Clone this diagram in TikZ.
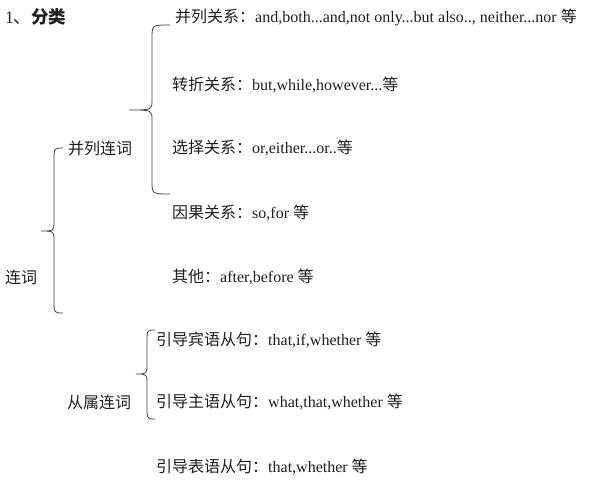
\documentclass[tikz,border=0pt]{standalone}
\usepackage{fontspec}
\setmainfont{Liberation Serif}
\newfontfamily\cjk{Noto Sans CJK SC}
\tikzset{
  lbl/.style={anchor=west,inner sep=0pt,font=\fontsize{16}{18}\selectfont,text=black!88},
  ttl/.style={anchor=west,inner sep=0pt,font=\fontsize{17.5}{20}\selectfont,text=black!88},
  brace/.style={draw=black!75,line width=0.8pt}
}
% args: xend, xbar, xtip, ytop, ymid, ybot
\newcommand\mybrace[6]{%
  \draw[brace] (#1,#4) .. controls (#2,#4) .. (#2,#4+13) -- (#2,#5-10)
    .. controls (#2,#5) .. (#3,#5) .. controls (#2,#5) .. (#2,#5+10)
    -- (#2,#6-13) .. controls (#2,#6) .. (#1,#6);}
\begin{document}
\begin{tikzpicture}[x=1pt,y=-1pt]
\useasboundingbox (0,0) rectangle (600,500);
\fill[white] (0,0) rectangle (600,500);
\node[ttl] (title) at (5,17) {1{\cjk 、\bfseries 分类}};
\node[lbl] (p1) at (175,17) {{\cjk 并列关系：}and,both...and,not only...but also.., neither...nor {\cjk 等}};
\node[lbl] (p2) at (172,85) {{\cjk 转折关系：}but,while,however...{\cjk 等}};
\node[lbl] (p3) at (172,148) {{\cjk 选择关系：}or,either...or..{\cjk 等}};
\node[lbl] (p4) at (172,213) {{\cjk 因果关系：}so,for {\cjk 等}};
\node[lbl] (p5) at (172,277) {{\cjk 其他：}after,before {\cjk 等}};
\node[lbl] (bl) at (68,148) {\cjk 并列连词};
\node[lbl] (lc) at (5,277) {\cjk 连词};
\node[lbl] (s1) at (156,340) {{\cjk 引导宾语从句：}that,if,whether {\cjk 等}};
\node[lbl] (sl) at (67,402) {\cjk 从属连词};
\node[lbl] (s2) at (156,402) {{\cjk 引导主语从句：}what,that,whether {\cjk 等}};
\node[lbl] (s3) at (156,467) {{\cjk 引导表语从句：}that,whether {\cjk 等}};
\mybrace{170}{152}{129}{25}{110}{194}
\mybrace{63}{54}{41}{148}{231}{313}
\mybrace{155}{147}{136}{330}{374}{419}
\end{tikzpicture}
\end{document}
